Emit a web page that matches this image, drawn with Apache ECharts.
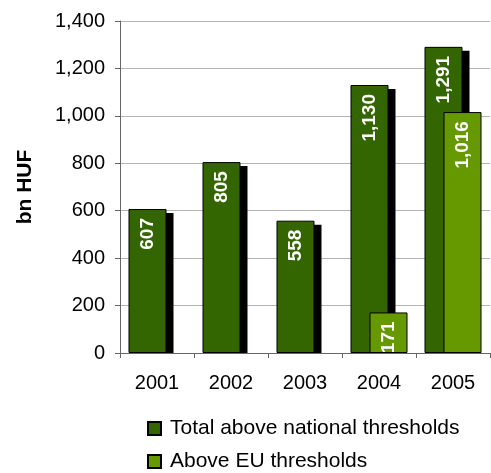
<!DOCTYPE html>
<html>
<head>
<meta charset="utf-8">
<script src="https://cdn.jsdelivr.net/npm/echarts@6/dist/echarts.min.js"></script>
<style>
  html, body { margin: 0; padding: 0; background: #fff; }
  #chart { width: 491px; height: 473px; }
</style>
</head>
<body>
<div id="chart"></div>
<script>
// Public procurement value, bn HUF
const years = ['2001', '2002', '2003', '2004', '2005'];
const totalNational = [607, 805, 558, 1130, 1291];
const aboveEU = [null, null, null, 171, 1016];
const yTicks = [0, 200, 400, 600, 800, 1000, 1200, 1400];

const fmt = v => String(v).replace(/\B(?=(\d{3})+(?!\d))/g, ',');
const FONT = '"Liberation Sans", Arial, sans-serif';

// bar geometry: two 38px bars overlapping by half
const BAR_W = 38;
const DARK_OFFSET = -9.5;        // dark bar centre relative to category centre
const SHADOW_DX = 7, SHADOW_DY = 4;

const chart = echarts.init(document.getElementById('chart'), null, { renderer: 'canvas' });

const barLabel = {
  show: true,
  position: 'insideTop',
  distance: 9,
  rotate: 90,
  align: 'right',
  verticalAlign: 'middle',
  color: '#fff',
  fontFamily: FONT,
  fontWeight: 'bold',
  fontSize: 19,
  formatter: p => fmt(p.value)
};

// drop shadow behind the dark bars, stopping at the zero line
function renderShadow(params, api) {
  const top = api.coord([api.value(0), api.value(1)]);
  const base = api.coord([api.value(0), 0]);
  const left = top[0] + DARK_OFFSET - BAR_W / 2 + SHADOW_DX;
  const y = top[1] + SHADOW_DY;
  return {
    type: 'rect',
    shape: { x: left, y: y, width: BAR_W, height: base[1] - y },
    style: { fill: '#000' }
  };
}

chart.setOption({
  animation: false,
  textStyle: { fontFamily: FONT },
  grid: { left: 120, right: 1, top: 21, bottom: 120 },
  legend: {
    orient: 'vertical',
    left: 147,
    top: 418,
    padding: 0,
    itemWidth: 13,
    itemHeight: 13,
    itemGap: 12,
    icon: 'rect',
    textStyle: { fontFamily: FONT, fontSize: 21, lineHeight: 21, color: '#000', padding: [0, 0, 0, 4] },
    data: ['Total above national thresholds', 'Above EU thresholds']
  },
  xAxis: {
    type: 'category',
    data: years,
    z: 10,
    axisLine: { lineStyle: { color: '#666', width: 1 } },
    axisTick: { show: true, length: 5, lineStyle: { color: '#666' } },
    axisLabel: { color: '#000', fontSize: 20, margin: 20, fontFamily: FONT }
  },
  yAxis: {
    type: 'value',
    min: yTicks[0],
    max: yTicks[yTicks.length - 1],
    interval: 200,
    name: 'bn HUF',
    nameLocation: 'middle',
    nameRotate: 90,
    nameGap: 84,
    nameTextStyle: { color: '#000', fontSize: 21, fontWeight: 'bold', fontFamily: FONT },
    axisLine: { show: true, lineStyle: { color: '#666', width: 1 } },
    axisTick: { show: true, length: 5, lineStyle: { color: '#666' } },
    axisLabel: { color: '#000', fontSize: 20, margin: 15, fontFamily: FONT, formatter: v => fmt(v) },
    splitLine: { show: true, lineStyle: { color: '#b4b4b4', width: 1 } }
  },
  series: [
    {
      name: 'shadow',
      type: 'custom',
      z: 1,
      silent: true,
      renderItem: renderShadow,
      encode: { x: 0, y: 1 },
      data: totalNational.map((v, i) => [i, v])
    },
    {
      name: 'Total above national thresholds',
      type: 'bar',
      z: 2,
      data: totalNational,
      barWidth: BAR_W,
      barGap: '-50%',
      itemStyle: { color: '#336600', borderColor: '#000', borderWidth: 1 },
      label: barLabel
    },
    {
      name: 'Above EU thresholds',
      type: 'bar',
      z: 3,
      data: aboveEU,
      barWidth: BAR_W,
      itemStyle: { color: '#669900', borderColor: '#000', borderWidth: 1 },
      label: barLabel
    }
  ]
});
</script>
</body>
</html>
